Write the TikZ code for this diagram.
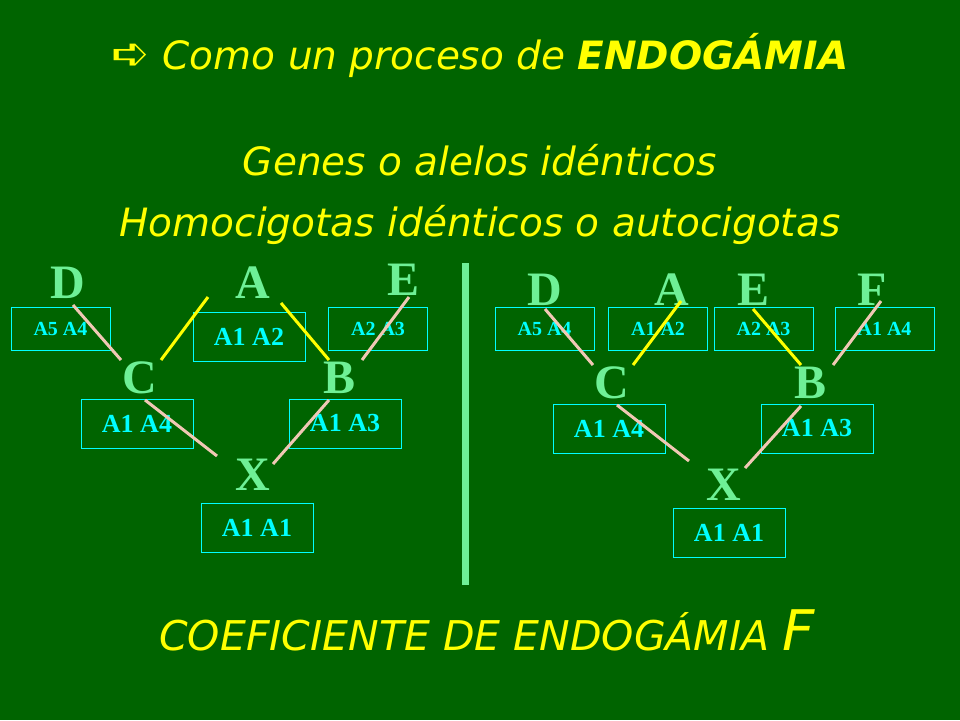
\documentclass[tikz,border=0pt]{standalone}
\usepackage{fontspec}
\setmainfont{Liberation Serif}
\newfontfamily\comic{DejaVu Sans}
\newfontfamily\djv{DejaVu Sans}
\begin{document}
\begin{tikzpicture}[x=1pt,y=-1pt,
  ttl/.style={text=yell,font=\comic\itshape\fontsize{39}{43}\selectfont},
  let/.style={text=lgreen,font=\bfseries\fontsize{48}{48}\selectfont,inner sep=0},
  bx/.style={draw=cyn,line width=0.8pt,text=cyn,font=\bfseries\fontsize{26}{26}\selectfont,minimum width=112pt,minimum height=49pt,inner sep=0},
  sbx/.style={bx,font=\bfseries\fontsize{20}{20}\selectfont,minimum width=99pt,minimum height=43pt},
  pk/.style={draw=pinkl,line width=3pt},
  yl/.style={draw=yell,line width=3pt}]
\definecolor{bg}{RGB}{0,100,0}
\definecolor{lgreen}{RGB}{110,240,150}
\definecolor{pinkl}{RGB}{240,200,180}
\definecolor{cyn}{RGB}{0,255,255}
\definecolor{yell}{RGB}{255,255,0}
\fill[bg] (0,0) rectangle (960,720);
\node[ttl] (t1) at (480,55) {{\djv\fontsize{46}{46}\selectfont➪}\ Como un proceso de \textbf{ENDOGÁMIA}};
\node[ttl] (t2) at (480,160) {Genes o alelos idénticos};
\node[ttl] (t3) at (480,225) {Homocigotas idénticos o autocigotas};
\node[ttl,font=\comic\itshape\fontsize{41}{43}\selectfont] (t4) at (487,630) {COEFICIENTE DE ENDOGÁMIA {\fontsize{56}{56}\selectfont F}};
\fill[lgreen] (462,263) rectangle (469,585);
% left tree
\node[sbx] (bD) at (60.5,328.5) {A5 A4};
\node[bx]  (bA) at (249,337) {A1 A2};
\node[sbx] (bE) at (378,328.5) {A2 A3};
\node[bx]  (bC) at (137,423.5) {A1 A4};
\node[bx]  (bB) at (345,423.5) {A1 A3};
\node[bx]  (bX) at (257,527.5) {A1 A1};
\node[let] (D) at (68,283) {D};
\node[let] (A) at (253,283) {A};
\node[let] (E) at (404,280) {E};
\node[let] (C) at (140,378) {C};
\node[let] (B) at (340,378) {B};
\node[let] (X) at (253,475) {X};
\coordinate (d1) at (73,305); \coordinate (d2) at (121,360);
\coordinate (a1) at (208,297); \coordinate (a2) at (161,360);
\coordinate (a3) at (281,303); \coordinate (a4) at (329,360);
\coordinate (e1) at (409,297); \coordinate (e2) at (362,360);
\coordinate (c1) at (145,400); \coordinate (c2) at (217,456);
\coordinate (b1) at (329,400); \coordinate (b2) at (273,464);
\draw[pk] (d1)--(d2); \draw[yl] (a1)--(a2); \draw[yl] (a3)--(a4);
\draw[pk] (e1)--(e2); \draw[pk] (c1)--(c2); \draw[pk] (b1)--(b2);
% right tree
\node[sbx] (rbD) at (544.5,328.5) {A5 A4};
\node[sbx] (rbA) at (658,328.5) {A1 A2};
\node[sbx] (rbE) at (763.5,328.5) {A2 A3};
\node[sbx] (rbF) at (884.5,328.5) {A1 A4};
\node[bx]  (rbC) at (609,428.5) {A1 A4};
\node[bx]  (rbB) at (817,428.5) {A1 A3};
\node[bx]  (rbX) at (729,532.5) {A1 A1};
\node[let] (rD) at (545,290) {D};
\node[let] (rA) at (672,290) {A};
\node[let] (rE) at (753,290) {E};
\node[let] (rF) at (872,290) {F};
\node[let] (rC) at (612,383) {C};
\node[let] (rB) at (810,383) {B};
\node[let] (rX) at (724,485) {X};
\coordinate (rd1) at (545,309); \coordinate (rd2) at (593,365);
\coordinate (ra1) at (681,301); \coordinate (ra2) at (633,365);
\coordinate (re1) at (753,309); \coordinate (re2) at (801,365);
\coordinate (rf1) at (881,301); \coordinate (rf2) at (833,365);
\coordinate (rc1) at (617,405); \coordinate (rc2) at (689,461);
\coordinate (rb1) at (801,406); \coordinate (rb2) at (745,468);
\draw[pk] (rd1)--(rd2); \draw[yl] (ra1)--(ra2); \draw[yl] (re1)--(re2);
\draw[pk] (rf1)--(rf2); \draw[pk] (rc1)--(rc2); \draw[pk] (rb1)--(rb2);
\end{tikzpicture}
\end{document}
